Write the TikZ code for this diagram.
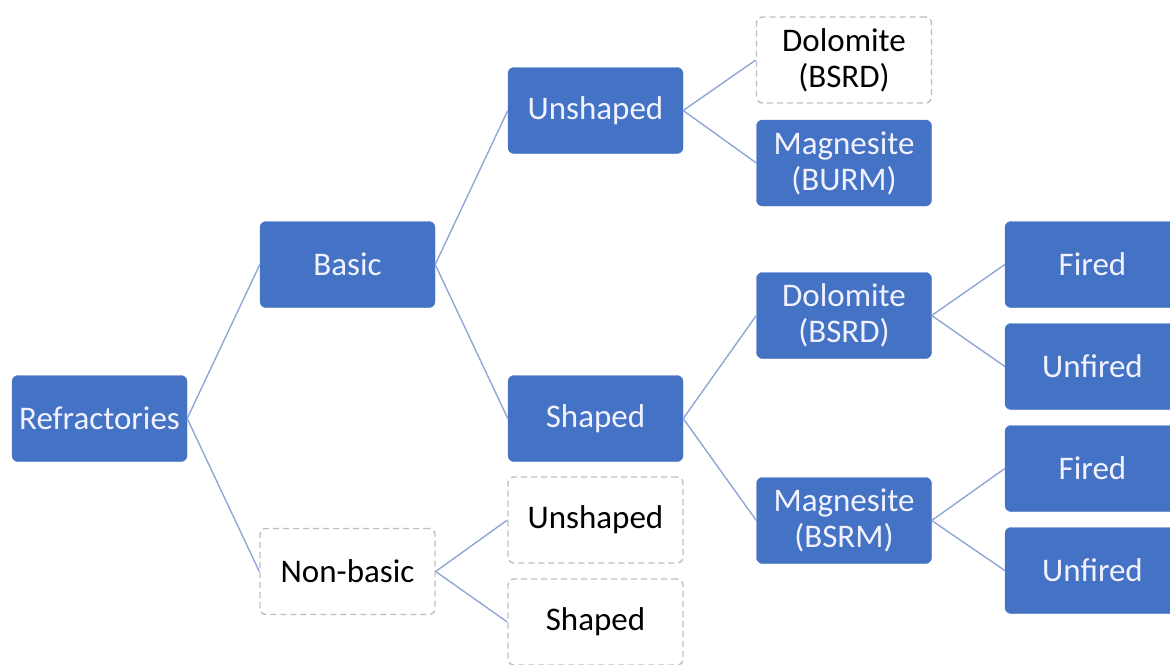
\documentclass[tikz,border=0pt]{standalone}
\usepackage{fontspec}
\setmainfont{Carlito}
\definecolor{boxblue}{RGB}{68,114,196}
\definecolor{linkblue}{RGB}{143,166,214}
\definecolor{dashgray}{RGB}{191,191,191}
\begin{document}
\begin{tikzpicture}[x=1pt,y=-1pt,
  base/.style={rounded corners=6pt, minimum width=175pt, minimum height=86pt, inner sep=2pt,
    align=center, font=\fontsize{33}{36}\selectfont},
  solidbox/.style={base, fill=boxblue, draw=boxblue, text=white!95!blue},
  dashbox/.style={base, fill=white, draw=dashgray, line width=1.4pt, dash pattern=on 6pt off 4pt, text=black},
  link/.style={draw=linkblue, line width=1.4pt}]
\useasboundingbox (0,0) rectangle (1170,664);
\clip (0,0) rectangle (1170,664);
\node[solidbox] (ref) at (99.5,418.5) {Refractories};
\node[solidbox] (basic) at (347.5,264.5) {Basic};
\node[dashbox] (nonbasic) at (347.5,571.5) {Non-basic};
\node[solidbox] (unsh) at (595.5,110.5) {Unshaped};
\node[solidbox] (sh) at (595.5,418.5) {Shaped};
\node[dashbox] (nbunsh) at (595.5,520) {Unshaped};
\node[dashbox] (nbsh) at (595.5,622) {Shaped};
\node[dashbox] (dolo1) at (844,60) {Dolomite\\(BSRD)};
\node[solidbox] (magn1) at (844,163) {Magnesite\\(BURM)};
\node[solidbox] (dolo2) at (844,315.5) {Dolomite\\(BSRD)};
\node[solidbox] (magn2) at (844,520.5) {Magnesite\\(BSRM)};
\node[solidbox] (f1) at (1092.5,264.5) {Fired};
\node[solidbox] (u1) at (1092.5,366.5) {Unfired};
\node[solidbox] (f2) at (1092.5,468.5) {Fired};
\node[solidbox] (u2) at (1092.5,570.5) {Unfired};
\draw[link] (ref.east) -- (basic.west);
\draw[link] (ref.east) -- (nonbasic.west);
\draw[link] (basic.east) -- (unsh.west);
\draw[link] (basic.east) -- (sh.west);
\draw[link] (nonbasic.east) -- (nbunsh.west);
\draw[link] (nonbasic.east) -- (nbsh.west);
\draw[link] (unsh.east) -- (dolo1.west);
\draw[link] (unsh.east) -- (magn1.west);
\draw[link] (sh.east) -- (dolo2.west);
\draw[link] (sh.east) -- (magn2.west);
\draw[link] (dolo2.east) -- (f1.west);
\draw[link] (dolo2.east) -- (u1.west);
\draw[link] (magn2.east) -- (f2.west);
\draw[link] (magn2.east) -- (u2.west);
\end{tikzpicture}
\end{document}
